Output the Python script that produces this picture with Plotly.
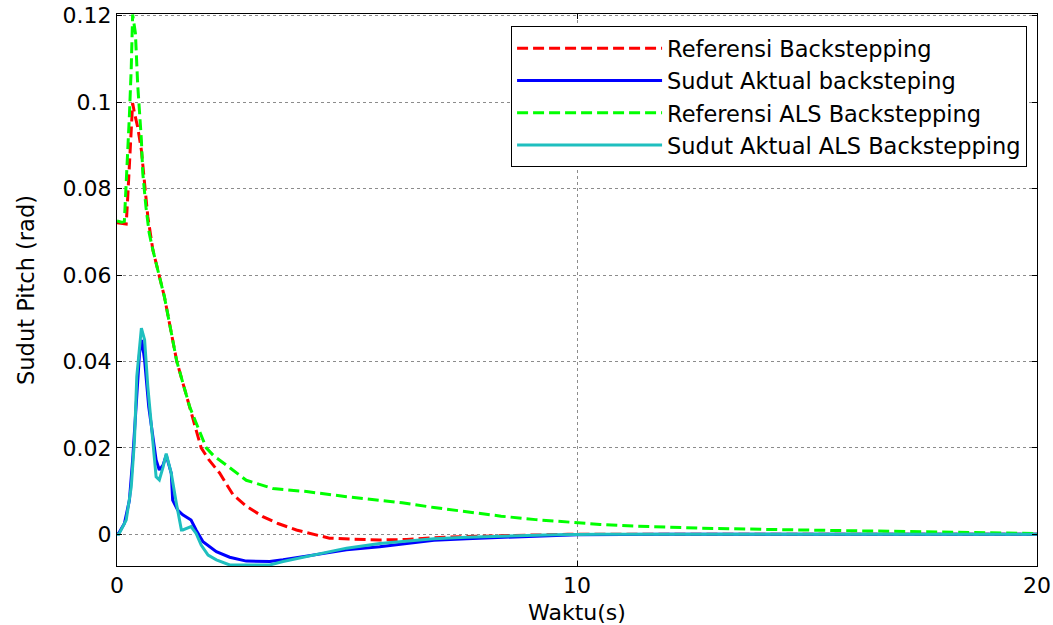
import plotly.graph_objects as go

# ---- data ----
t_ref_bs = [0, 0.1, 0.2, 0.23, 0.27, 0.31, 0.34, 0.38, 0.45, 0.53, 0.60, 0.67, 0.78, 0.92,
            1.03, 1.30, 1.58, 1.83, 2.0, 2.23, 2.52, 2.8, 3.17, 3.5, 3.9, 4.25, 4.62, 5.1,
            5.71, 6.3, 6.89, 7.6, 8.35, 9.0, 9.8, 12, 15, 20]
y_ref_bs = [0.0721, 0.0719, 0.0718, 0.0774, 0.086, 0.0912, 0.0998, 0.0975, 0.0942, 0.0889,
            0.082, 0.0735, 0.0658, 0.0596, 0.055, 0.040, 0.0295, 0.020, 0.0172, 0.0142,
            0.0092, 0.0066, 0.0041, 0.0025, 0.001, 0.0, -0.0009, -0.0011, -0.0013, -0.0012,
            -0.0008, -0.0005, -0.0003, -0.0001, 0.0, 0.0, 0.0, 0.0]

t_act_bs = [0, 0.04, 0.16, 0.27, 0.34, 0.42, 0.49, 0.54, 0.60, 0.69, 0.78, 0.85, 0.92, 1.0,
            1.07, 1.18, 1.21, 1.32, 1.43, 1.61, 1.72, 1.87, 2.16, 2.45, 2.81, 3.32, 3.61,
            4.26, 4.99, 5.71, 6.3, 6.89, 7.6, 8.35, 9.2, 10, 12, 20]
y_act_bs = [0, 0.0003, 0.0025, 0.0079, 0.0172, 0.031, 0.0419, 0.045, 0.0403, 0.0295,
            0.0218, 0.0172, 0.0149, 0.016, 0.0183, 0.0141, 0.0079, 0.0056, 0.0045, 0.0033,
            0.001, -0.0017, -0.004, -0.0053, -0.0062, -0.0063, -0.0059, -0.0048, -0.0036,
            -0.0029, -0.0021, -0.0014, -0.0010, -0.0007, -0.0004, -0.0001, 0.0, 0.0]

t_ref_als = [0, 0.1, 0.16, 0.2, 0.27, 0.31, 0.34, 0.40, 0.45, 0.53, 0.56, 0.63, 0.70, 0.78,
             0.92, 1.03, 1.30, 1.58, 1.94, 2.1, 2.38, 2.81, 3.39, 4.12, 4.99, 5.71, 6.2,
             6.89, 7.6, 8.35, 9.1, 9.81, 10.5, 11.26, 12.72, 14.9, 17, 19.3, 20]
y_ref_als = [0.0725, 0.0722, 0.0724, 0.0805, 0.097, 0.108, 0.1203, 0.116, 0.104, 0.0913,
             0.0836, 0.0757, 0.0697, 0.0658, 0.0596, 0.055, 0.040, 0.0295, 0.020, 0.0182,
             0.0160, 0.0125, 0.0106, 0.0099, 0.0087, 0.0079, 0.0073, 0.0062, 0.0052,
             0.0042, 0.0034, 0.0028, 0.0023, 0.0019, 0.0014, 0.001, 0.0006, 0.0003, 0.0002]

t_act_als = [0, 0.04, 0.2, 0.31, 0.38, 0.43, 0.53, 0.60, 0.67, 0.78, 0.85, 0.92, 1.0, 1.07,
             1.18, 1.29, 1.40, 1.43, 1.61, 1.72, 1.83, 1.98, 2.16, 2.45, 3.32, 3.61, 4.26,
             4.99, 5.71, 6.3, 6.89, 7.6, 8.35, 9.5, 10.5, 12, 20]
y_act_als = [0, 0.0, 0.0033, 0.011, 0.0218, 0.0365, 0.0477, 0.045, 0.0342, 0.0211, 0.0133,
             0.0126, 0.0155, 0.0187, 0.0141, 0.0072, 0.001, 0.001, 0.0018, 0.0002, -0.0025,
             -0.0048, -0.0059, -0.0071, -0.0071, -0.0063, -0.0048, -0.0032, -0.0021,
             -0.0015, -0.0010, -0.0007, -0.0004, -0.0001, 0.0, 0.0, 0.0]

names = ["Referensi Backstepping", "Sudut Aktual backsteping",
         "Referensi ALS Backstepping", "Sudut Aktual ALS Backstepping"]

x_ticks = [0, 10, 20]
y_ticks = [0, 0.02, 0.04, 0.06, 0.08, 0.1, 0.12]
y_tick_text = ["0", "0.02", "0.04", "0.06", "0.08", "0.1", "0.12"]

FONT = "DejaVu Sans"

fig = go.Figure()
fig.add_trace(go.Scatter(x=t_ref_bs, y=y_ref_bs, mode="lines", name=names[0],
                         line=dict(color="#ff0000", width=3, dash="11px,5px")))
fig.add_trace(go.Scatter(x=t_act_bs, y=y_act_bs, mode="lines", name=names[1],
                         line=dict(color="#0000ff", width=3)))
fig.add_trace(go.Scatter(x=t_ref_als, y=y_ref_als, mode="lines", name=names[2],
                         line=dict(color="#00ff00", width=3, dash="11px,5px")))
fig.add_trace(go.Scatter(x=t_act_als, y=y_act_als, mode="lines", name=names[3],
                         line=dict(color="#1fbfbf", width=3)))

axis_common = dict(showline=True, linecolor="black", linewidth=1, mirror="ticks",
                   ticks="inside", ticklen=5, tickcolor="black",
                   showgrid=True, gridcolor="rgba(0,0,0,0.45)", griddash="dot",
                   gridwidth=1, zeroline=False, automargin=False,
                   tickfont=dict(family=FONT, size=22, color="black"))

fig.update_xaxes(range=[0, 20], tickvals=x_ticks,
                 title=dict(text="Waktu(s)", font=dict(family=FONT, size=22, color="black"),
                            standoff=12),
                 **axis_common)
fig.update_yaxes(range=[-0.00733, 0.1204], tickvals=y_ticks, ticktext=y_tick_text,
                 title=dict(text="Sudut Pitch (rad)",
                            font=dict(family=FONT, size=22.5, color="black"), standoff=21),
                 **axis_common)

fig.update_layout(
    width=1053, height=625,
    margin=dict(l=117, r=16, t=14, b=59, autoexpand=False),
    paper_bgcolor="white", plot_bgcolor="white",
    font=dict(family=FONT, color="black"),
    legend=dict(x=0.9892, y=0.978, xanchor="right", yanchor="top",
                bgcolor="white", bordercolor="black", borderwidth=1,
                font=dict(family=FONT, size=22.5, color="black"),
                itemwidth=145, tracegroupgap=0),
    showlegend=True,
)

fig.write_html("out.html")
